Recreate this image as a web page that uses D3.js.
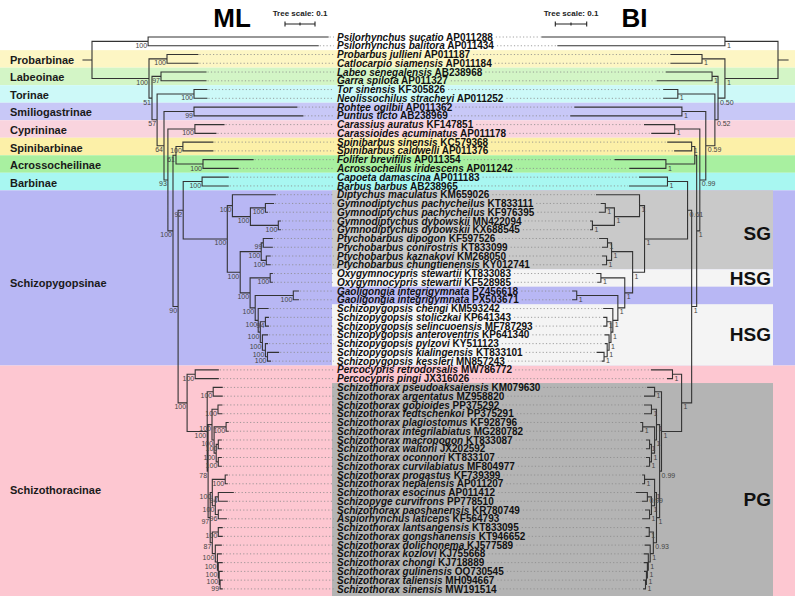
<!DOCTYPE html>
<html><head><meta charset="utf-8">
<script src="https://cdn.jsdelivr.net/npm/d3@7"></script>
<style>
body{margin:0;background:#fff}
svg{display:block}
text{font-family:"Liberation Sans",Arial,Helvetica,sans-serif}
</style>
</head><body>
<svg id="c" width="795" height="596"></svg>
<script>
// ---------------- DATA ----------------
const taxa = ["Psilorhynchus sucatio","Psilorhynchus balitora","Probarbus jullieni","Catlocarpio siamensis","Labeo senegalensis","Garra spilota","Tor sinensis","Neolissochilus stracheyi","Rohtee ogilbii","Puntius ticto","Carassius auratus","Carassioides acuminatus","Spinibarbus sinensis","Spinibarbus caldwelli","Folifer brevifilis","Acrossocheilus iridescens","Capoeta damascina","Barbus barbus","Diptychus maculatus","Gymnodiptychus pachycheilus","Gymnodiptychus pachycheilus","Gymnodiptychus dybowskii","Gymnodiptychus dybowskii","Ptychobarbus dipogon","Ptychobarbus conirostris","Ptychobarbus kaznakovi","Ptychobarbus chungtienensis","Oxygymnocypris stewartii","Oxygymnocypris stewartii","Gaoligongia integrigymnata","Gaoligongia integrigymnata","Schizopygopsis chengi","Schizopygopsis stoliczkai","Schizopygopsis selincuoensis","Schizopygopsis anteroventris","Schizopygopsis pylzovi","Schizopygopsis kialingensis","Schizopygopsis kessleri","Percocypris retrodorsalis","Percocypris pingi","Schizothorax pseudoaksaiensis","Schizothorax argentatus","Schizothorax gobioides","Schizothorax fedtschenkoi","Schizothorax plagiostomus","Schizothorax integrilabiatus","Schizothorax macropogon","Schizothorax waltoni","Schizothorax oconnori","Schizothorax curvilabiatus","Schizothorax progastus","Schizothorax nepalensis","Schizothorax esocinus","Schizopyge curvifrons","Schizothorax paoshanensis","Aspiorhynchus laticeps","Schizothorax lantsangensis","Schizothorax gongshanensis","Schizothorax dolichonema","Schizothorax kozlovi","Schizothorax chongi","Schizothorax gulinensis","Schizothorax taliensis","Schizothorax sinensis"];

const accessions = ["AP011288","AP011434","AP011187","AP011184","AB238968","AP011327","KF305826","AP011252","AP011362","AB238969","KF147851","AP011178","KC579368","AP011376","AP011354","AP011242","AP011183","AB238965","KM659026","KT833111","KF976395","MN422094","KX688545","KF597526","KT833099","KM268050","KY012741","KT833083","KF528985","PZ456618","PX503671","KM593242","KP641343","MF787293","KP641340","KY511123","KT833101","MN857243","MW786772","JX316026","KM079630","MZ958820","PP375292","PP375291","KF928796","MG280782","KT833087","JX202592","KT833107","MF804977","KF739399","AP011207","AP011412","PP778510","KR780749","KF564793","KT833095","KT946652","KJ577589","KJ755668","KJ718889","OQ730545","MH094667","MW191514"];

// subfamily: name, first row, last row, colour
const subfamilies = [
  ["Probarbinae",2,3,"#fdf6c4"],
  ["Labeoinae",4,5,"#d3f5c6"],
  ["Torinae",6,7,"#cdf9f8"],
  ["Smiliogastrinae",8,9,"#c8c8f7"],
  ["Cyprininae",10,11,"#f9d4de"],
  ["Spinibarbinae",12,13,"#fcf0a8"],
  ["Acrossocheilinae",14,15,"#a8f0a0"],
  ["Barbinae",16,17,"#a8f7f1"],
  ["Schizopygopsinae",18,37,"#b8b7f4"],
  ["Schizothoracinae",38,63,"#fdc7d1"]
];

// clade groups: label, first row, last row, colour
const groups = [
  ["SG",18,26,"#c9c9c9"],
  ["HSG",27,28,"#f4f4f4"],
  ["HSG",31,37,"#f4f4f4"],
  ["PG",40,63,"#b4b4b4"]
];

// clades: id, child1, child2, ML branch length, ML bootstrap, BI branch length, BI posterior
const clades = [
  ["root","OG","IN",0.030,"",0.032,""],
  ["OG",0,1,0.187,"100",0.169,"1"],
  ["IN","PC","A",0.190,"100",0.169,"1"],
  ["PC",2,3,0.060,"100",0.073,"1"],
  ["A","LG","B",0.010,"51",0.022,"0.50"],
  ["LG",4,5,0.030,"97",0.019,"1"],
  ["B","TN","C",0.017,"57",0.010,"0.52"],
  ["TN",6,7,0.123,"100",0.118,"1"],
  ["C","RP","D",0.023,"64",0.029,"0.59"],
  ["RP",8,9,0.100,"99",0.076,"1"],
  ["D","CC","E",0.013,"93",0.019,"0.99"],
  ["CC",10,11,0.090,"100",0.080,"1"],
  ["E","G61","F",0.017,"100",0.010,"1"],
  ["G61","SS","FA",0.010,"61",0.006,""],
  ["SS",12,13,0.023,"100",0.010,"1"],
  ["FA",14,15,0.090,"100",0.092,"1"],
  ["F","H","ST",0.017,"90",0.016,"1"],
  ["H","CB","SP",0.017,"92",0.013,"0.61"],
  ["CB",16,17,0.063,"100",0.064,"1"],
  ["SP","DG","RR",0.147,"100",0.137,"1"],
  ["DG",18,"GY",0.017,"100",0.016,"1"],
  ["GY","G12","G34",0.060,"100",0.080,"1"],
  ["G12",19,20,0.050,"100",0.029,"1"],
  ["G34",21,22,0.093,"100",0.070,"1"],
  ["RR","PT","S",0.043,"100",0.038,"1"],
  ["PT","P12","P34",0.070,"100",0.067,"1"],
  ["P12",23,24,0.007,"99",0.013,"1"],
  ["P34",25,26,0.017,"100",0.016,"1"],
  ["S","OX","T",0.033,"100",0.025,"1"],
  ["OX",27,28,0.067,"100",0.076,"1"],
  ["T","GA","SZ",0.017,"100",0.022,"1"],
  ["GA",29,30,0.127,"100",0.131,"1"],
  ["SZ",31,"X1",0.010,"100",0.016,"1"],
  ["X1","SS2","X2",0.007,"100",0.006,"1"],
  ["SS2",32,33,0.017,"94",0.013,"1"],
  ["X2",34,"X3",0.007,"100",0.006,"1"],
  ["X3",35,"KK",0.010,"100",0.006,"1"],
  ["KK",36,37,0.007,"100",0.010,"1"],
  ["ST","PE","SC",0.030,"100",0.032,"1"],
  ["PE",38,39,0.027,"100",0.029,"1"],
  ["SC","PA","R1",0.067,"100",0.064,"1"],
  ["PA",40,41,0.020,"100",0.022,"1"],
  ["R1","R2","R3",0.003,"78",0.006,"0.99"],
  ["R2","GF","R2b",0.013,"100",0.010,"1"],
  ["GF",42,43,0.020,"100",0.016,"1"],
  ["R2b","PI","MWOC",0.007,"100",0.006,"1"],
  ["PI",44,45,0.040,"100",0.038,"1"],
  ["MWOC","MW","OC",0.007,"100",0.010,"1"],
  ["MW",46,47,0.007,"100",0.006,"1"],
  ["OC",48,49,0.007,"100",0.006,"1"],
  ["R3","R4","R5",0.007,"97",0.010,"1"],
  ["R4","PN","ECPA",0.007,"100",0.006,"1"],
  ["PN",50,51,0.043,"100",0.032,"1"],
  ["ECPA","EC","PAS",0.010,"100",0.010,"1"],
  ["EC",52,53,0.010,"94",0.013,"0.99"],
  ["PAS",54,55,0.010,"96",0.006,"1"],
  ["R5","LGs","DO",0.007,"87",0.010,"0.93"],
  ["LGs",56,57,0.020,"100",0.013,"1"],
  ["DO",58,"KO",0.010,"100",0.010,"1"],
  ["KO",59,"CH",0.007,"100",0.006,"1"],
  ["CH",60,"GU",0.003,"100",0.003,"1"],
  ["GU",61,"TS",0.003,"100",0.003,"1"],
  ["TS",62,63,0.003,"99",0.003,"1"]
];

const mlTipLen = [0.600,0.567,0.103,0.103,0.150,0.150,0.043,0.043,0.343,0.363,0.097,0.070,0.100,0.100,0.167,0.117,0.087,0.087,0.143,0.027,0.007,0.007,0.007,0.030,0.030,0.013,0.013,0.007,0.007,0.017,0.017,0.033,0.010,0.010,0.017,0.007,0.037,0.010,0.077,0.077,0.030,0.030,0.013,0.013,0.007,0.007,0.010,0.010,0.010,0.010,0.007,0.007,0.050,0.030,0.010,0.027,0.013,0.013,0.020,0.013,0.013,0.010,0.007,0.007];

const biTipLen = [0.583,0.532,0.099,0.099,0.146,0.175,0.045,0.045,0.341,0.354,0.096,0.073,0.076,0.054,0.162,0.115,0.089,0.121,0.137,0.013,0.019,0.006,0.006,0.025,0.016,0.013,0.013,0.013,0.010,0.013,0.013,0.029,0.010,0.010,0.013,0.006,0.022,0.006,0.067,0.016,0.022,0.032,0.022,0.022,0.006,0.006,0.010,0.010,0.010,0.010,0.006,0.006,0.035,0.016,0.013,0.022,0.010,0.010,0.016,0.013,0.010,0.006,0.006,0.006];

const treeScale = 0.1;

// ---------------- LAYOUT ----------------
const W = 795, H = 596;
const svg = d3.select("#c");
const rowY = d3.scalePoint().domain(d3.range(taxa.length)).range([37, 588.9]);
const half = rowY.step() / 2;
const mlX = d3.scaleLinear().domain([0, 1]).range([92, 392]);
const biX = d3.scaleLinear().domain([0, 1]).range([778, 464]);
const labelX = 337, boxX0 = 332, boxX1 = 773;

// background bands
const bandTop = d => rowY(d[1]) - half;
const bandBot = d => d[2] === taxa.length - 1 ? H : rowY(d[2]) + half;
svg.append("g").selectAll("rect").data(subfamilies).join("rect")
  .attr("x", 0).attr("width", W)
  .attr("y", bandTop).attr("height", d => bandBot(d) - bandTop(d))
  .attr("fill", d => d[3]);

svg.append("g").selectAll("rect").data(groups).join("rect")
  .attr("x", boxX0).attr("width", boxX1 - boxX0)
  .attr("y", bandTop).attr("height", d => bandBot(d) - bandTop(d))
  .attr("fill", d => d[3]);

// subfamily labels
const subShift = {"Schizopygopsinae": 4, "Schizothoracinae": 10};
svg.append("g").selectAll("text").data(subfamilies).join("text")
  .attr("x", 10)
  .attr("y", d => (rowY(d[1]) + rowY(d[2])) / 2 + 1 + (subShift[d[0]] || 0))
  .attr("dominant-baseline", "central")
  .attr("font-size", 11).attr("font-weight", "bold").attr("fill", "#1a1a1a")
  .text(d => d[0]);

// group labels
const grpShift = [10, 7, 6, 16];
svg.append("g").selectAll("text").data(groups).join("text")
  .attr("x", 771).attr("text-anchor", "end")
  .attr("y", (d, i) => (bandTop(d) + bandBot(d)) / 2 + grpShift[i])
  .attr("font-size", 19).attr("font-weight", "bold").attr("fill", "#111")
  .text(d => d[0]);

// build trees
const byId = new Map(clades.map(r => [r[0], r]));
function buildTree(lenCol, supCol, tipLen) {
  function rec(id) {
    if (typeof id === "number") return {leaf: id, len: tipLen[id]};
    const r = byId.get(id);
    return {id, len: r[lenCol], sup: r[supCol], children: [rec(r[1]), rec(r[2])]};
  }
  const root = d3.hierarchy(rec("root"));
  root.eachBefore(n => n.dist = n.parent ? n.parent.dist + n.data.len : 0);
  root.eachAfter(n => n.yy = n.children ? (n.children[0].yy + n.children[1].yy) / 2 : rowY(n.data.leaf));
  return root;
}
const mlRoot = buildTree(3, 4, mlTipLen);
const biRoot = buildTree(5, 6, biTipLen);

// leaf labels (drawn into a group we place on top later)
const labG = svg.append("g");
const lab = labG.selectAll("text").data(taxa).join("text")
  .attr("x", labelX).attr("y", (d, i) => rowY(i) + 3.6)
  .attr("font-size", 10).attr("font-weight", "bold").attr("fill", "#111")
  .style("white-space", "pre");
lab.append("tspan").attr("font-style", "italic").text(d => d);
lab.append("tspan").text((d, i) => " " + accessions[i]);
const widths = lab.nodes().map(n => n.getComputedTextLength());

// dotted leader lines
const dotG = svg.insert("g", () => labG.node())
  .attr("stroke", "#8a8a8a").attr("stroke-width", 0.8).attr("stroke-dasharray", "1.2,2.2");
dotG.selectAll("line.ml").data(mlRoot.leaves()).join("line").attr("class", "ml")
  .attr("x1", n => mlX(n.dist) + 1.5).attr("x2", labelX - 3)
  .attr("y1", n => n.yy).attr("y2", n => n.yy);
dotG.selectAll("line.bi").data(biRoot.leaves()).join("line").attr("class", "bi")
  .attr("x1", n => labelX + widths[n.data.leaf] + 3).attr("x2", n => biX(n.dist) - 1.5)
  .attr("y1", n => n.yy).attr("y2", n => n.yy);

function drawTree(root, xs, side) {
  const parts = [];
  root.each(n => {
    const x = xs(n.dist);
    const px = n.parent ? xs(n.parent.dist) : xs(-n.data.len);
    parts.push(`M${px},${n.yy}H${x}`);
    if (n.children) parts.push(`M${x},${n.children[0].yy}V${n.children[1].yy}`);
  });
  svg.insert("path", () => labG.node()).attr("d", parts.join(""))
    .attr("fill", "none").attr("stroke", "#333").attr("stroke-width", 1.1)
    .attr("stroke-linecap", "square");
  svg.insert("g", () => labG.node()).selectAll("text")
    .data(root.descendants().filter(n => n.children && n.data.sup)).join("text")
    .attr("x", n => xs(n.dist) + (side === "left" ? -1 : 2))
    .attr("y", n => n.yy + 6.5)
    .attr("text-anchor", side === "left" ? "end" : "start")
    .attr("font-size", 7).attr("fill", "#444")
    .text(n => n.data.sup);
}
drawTree(mlRoot, mlX, "left");
drawTree(biRoot, biX, "right");

// titles
svg.append("text").attr("x", 232).attr("y", 27).attr("text-anchor", "middle")
  .attr("font-size", 26).attr("font-weight", "bold").attr("fill", "#000").text("ML");
svg.append("text").attr("x", 634.5).attr("y", 27).attr("text-anchor", "middle")
  .attr("font-size", 26).attr("font-weight", "bold").attr("fill", "#000").text("BI");

// tree scale bars
function scaleBar(cx, xs) {
  const len = Math.abs(xs(treeScale) - xs(0));
  const g = svg.append("g");
  g.append("text").attr("x", cx).attr("y", 16).attr("text-anchor", "middle")
    .attr("font-size", 8).attr("font-weight", "bold").attr("fill", "#222")
    .text("Tree scale: " + treeScale);
  const x0 = cx - len / 2, x1 = cx + len / 2;
  g.append("path")
    .attr("d", `M${x0},24H${x1}M${x0},21.5V26.5M${x1},21.5V26.5M${(x0 + x1) / 2},22.5V25.5`)
    .attr("stroke", "#222").attr("stroke-width", 1.1).attr("fill", "none");
}
scaleBar(300, mlX);
scaleBar(571, biX);
</script>
</body></html>
